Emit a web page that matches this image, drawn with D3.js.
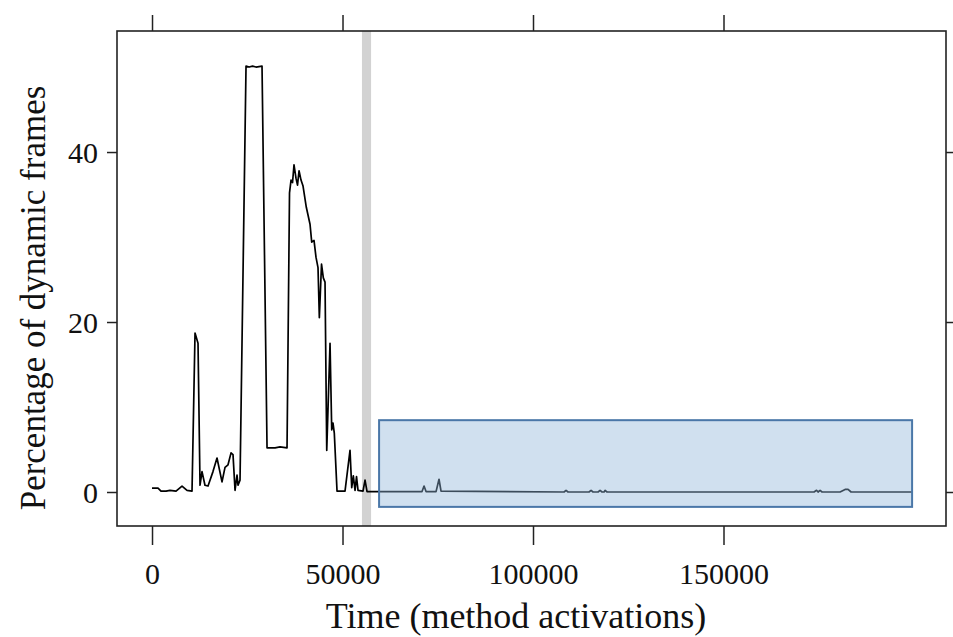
<!DOCTYPE html>
<html>
<head>
<meta charset="utf-8">
<script src="https://cdn.jsdelivr.net/npm/d3@7"></script>
<style>
  html, body { margin: 0; padding: 0; background: #fff; }
  svg { display: block; }
  text { font-family: "Liberation Serif", "Times New Roman", serif; fill: #111; }
</style>
</head>
<body>
<svg id="chart" width="953" height="637"></svg>
<script>
// ---- data ----
const time = [0,1575,2360,3675,4725,6300,7875,9190,10500,11290,12075,12600,13125,13900,14700,16000,17060,18375,19160,19950,20740,21260,21790,22310,22575,23100,24675,25500,26400,27300,28875,30190,32290,33600,35440,36090,36490,36880,37270,37800,38190,38590,39110,39640,40500,41475,41920,42520,43050,43570,43920,44490,44965,45410,45860,46725,47170,47510,47850,48560,50660,51970,52420,52840,53290,53680,54070,55380,55910,56440,70870,71400,71925,74550,75330,75860,108150,108670,109200,114700,115240,115760,117075,117600,118125,118650,118910,119440,173770,174420,174820,175350,175875,180600,181910,182700,183480,199500];
const pct  = [0.45,0.45,0.1,0.1,0.2,0.1,0.7,0.2,0.1,18.7,17.5,0.8,2.4,0.8,0.7,2.4,4.0,1.2,2.9,3.2,4.6,4.4,0.2,2.0,0.8,1.4,50.1,50.0,50.1,50.0,50.1,5.2,5.2,5.3,5.2,35.2,36.7,36.4,38.5,36.9,36.1,37.8,36.7,36.0,33.5,31.5,29.4,29.6,27.6,26.4,20.5,26.8,25.2,24.7,4.9,17.5,7.3,8.1,6.9,0.1,0.1,4.9,0.5,1.9,0.2,1.8,0.2,0.1,1.4,0.05,0.05,0.7,0.05,0.05,1.5,0.1,0,0.2,0,0,0.2,0,0,0.2,0,0,0.2,0,0,0.2,0,0.2,0,0,0.3,0.3,0,0];
const xTicks = [0, 50000, 100000, 150000];
const yTicks = [0, 20, 40];
const bandRange = [55100, 57500];            // grey vertical marker
const highlightX = [59600, 199500];          // blue region, x extent
const highlightY = [-1.75, 8.45];            // blue region, y extent
const xLabel = "Time (method activations)";
const yLabel = "Percentage of dynamic frames";

// ---- layout ----
const svg = d3.select("#chart");
const panel = {left: 117, right: 946, top: 31, bottom: 526};

const x = d3.scaleLinear()
  .domain([-9190, 208400])
  .range([panel.left, panel.right]);
const y = d3.scaleLinear()
  .domain([-4.0, 54.24])
  .range([panel.bottom, panel.top]);

const g = svg.append("g");

// grey band
g.append("rect")
  .attr("x", x(bandRange[0]))
  .attr("y", panel.top)
  .attr("width", x(bandRange[1]) - x(bandRange[0]))
  .attr("height", panel.bottom - panel.top)
  .attr("fill", "#d2d2d2");

// line
const line = d3.line().x((d, i) => x(time[i])).y((d, i) => y(pct[i]));
g.append("path")
  .datum(pct)
  .attr("d", line)
  .attr("fill", "none")
  .attr("stroke", "#000")
  .attr("stroke-width", 1.7)
  .attr("stroke-linejoin", "round");

// highlight rect (semi-transparent, drawn over the line)
g.append("rect")
  .attr("x", x(highlightX[0]))
  .attr("y", y(highlightY[1]))
  .attr("width", x(highlightX[1]) - x(highlightX[0]))
  .attr("height", y(highlightY[0]) - y(highlightY[1]))
  .attr("fill", "rgb(143,180,218)")
  .attr("fill-opacity", 0.42)
  .attr("stroke", "#4a77a8")
  .attr("stroke-width", 2);

// axes (lattice style: ticks on all four sides, labels bottom and left)
const axisStroke = "#222";
const bottomAxis = d3.axisBottom(x).tickValues(xTicks).tickSize(19).tickPadding(20).tickFormat(d3.format("d"));
const topAxis = d3.axisTop(x).tickValues(xTicks).tickSize(16).tickFormat("");
const leftAxis = d3.axisLeft(y).tickValues(yTicks).tickSize(10).tickPadding(10).tickFormat(d3.format("d"));
const rightAxis = d3.axisRight(y).tickValues(yTicks).tickSize(8).tickFormat("");

function style(sel) {
  sel.select(".domain").remove();
  sel.selectAll(".tick line").attr("stroke", axisStroke).attr("stroke-width", 1.5);
  sel.selectAll(".tick text").attr("font-size", 30).attr("font-family", "Liberation Serif, serif").attr("fill", "#111");
}

svg.append("g").attr("transform", `translate(0,${panel.bottom})`).call(bottomAxis).call(style)
  .selectAll(".tick text").attr("dy", null).attr("y", 58);
svg.append("g").attr("transform", `translate(0,${panel.top})`).call(topAxis).call(style);
svg.append("g").attr("transform", `translate(${panel.left},0)`).call(leftAxis).call(style)
  .selectAll(".tick text").attr("dy", "0.34em").attr("x", -19);
svg.append("g").attr("transform", `translate(${panel.right},0)`).call(rightAxis).call(style);

// panel box
svg.append("rect")
  .attr("x", panel.left).attr("y", panel.top)
  .attr("width", panel.right - panel.left).attr("height", panel.bottom - panel.top)
  .attr("fill", "none").attr("stroke", axisStroke).attr("stroke-width", 1.6);

// axis titles
svg.append("text")
  .attr("x", 516).attr("y", 628)
  .attr("text-anchor", "middle")
  .attr("font-size", 36)
  .text(xLabel);

svg.append("text")
  .attr("transform", "translate(45,298) rotate(-90)")
  .attr("text-anchor", "middle")
  .attr("font-size", 35)
  .text(yLabel);
</script>
</body>
</html>
